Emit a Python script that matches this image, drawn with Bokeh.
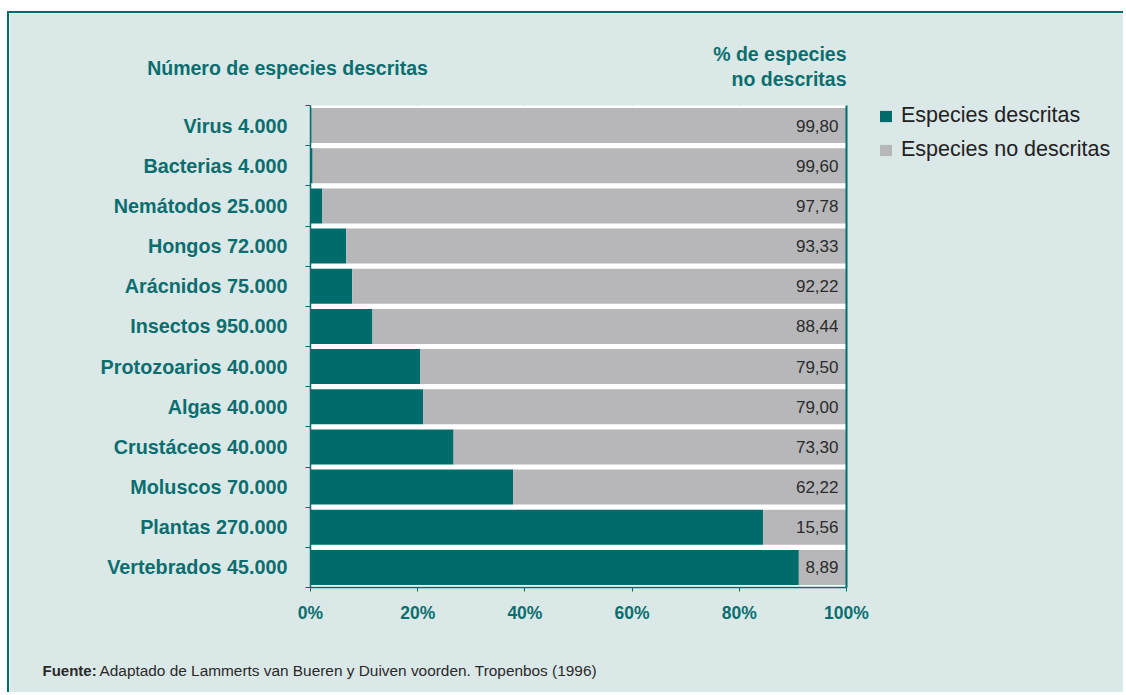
from bokeh.plotting import figure
from bokeh.models import ColumnDataSource, FixedTicker, Legend, LegendItem, Label, BoxAnnotation
from bokeh.embed import file_html
from bokeh.resources import INLINE
from bokeh.core.properties import value

# ---- data ----
grupos = ["Virus", "Bacterias", "Nemátodos", "Hongos", "Arácnidos", "Insectos",
          "Protozoarios", "Algas", "Crustáceos", "Moluscos", "Plantas", "Vertebrados"]
especies_descritas = ["4.000", "4.000", "25.000", "72.000", "75.000", "950.000",
                      "40.000", "40.000", "40.000", "70.000", "270.000", "45.000"]
pct_no_descritas = [99.80, 99.60, 97.78, 93.33, 92.22, 88.44,
                    79.50, 79.00, 73.30, 62.22, 15.56, 8.89]
pct_descritas = [round(100 - v, 2) for v in pct_no_descritas]
x_ticks = [0, 20, 40, 60, 80, 100]
x_tick_labels = ["0%", "20%", "40%", "60%", "80%", "100%"]

TEAL = "#006B6B"
TEXT_TEAL = "#0B6E6E"
GRAY = "#B7B7BA"
BG = "#DAE8E8"
SANS = "Liberation Sans"

n = len(grupos)
ypos = [n - 1 - i + 0.5 for i in range(n)]
labels = [f"{g} {d}" for g, d in zip(grupos, especies_descritas)]
val_text = [f"{v:.2f}".replace(".", ",") for v in pct_no_descritas]

# ---- layout (pixels inside the figure) ----
W, H = 1116, 681
FX0, FX1 = 301, 837        # pixel of 0% and 100%
FY_TOP, FY_BOT = 92, 574   # pixel of top / bottom of the bar area
sx = (FX1 - FX0) / 100.0
sy = (FY_BOT - FY_TOP) / n
x_range = (-FX0 / sx, 100 + (W - FX1) / sx)
y_range = (-(H - FY_BOT) / sy, n + FY_TOP / sy)

src = ColumnDataSource(dict(
    y=ypos, zero=[0] * n, desc=pct_descritas, full=[100] * n, txt=val_text,
))

p = figure(width=W, height=H, output_backend="svg", toolbar_location=None,
           x_range=x_range, y_range=y_range,
           min_border_left=0, min_border_right=0,
           min_border_top=0, min_border_bottom=0)
p.styles = {"margin-left": "7px", "margin-top": "11px",
            "border-top": f"2px solid {TEAL}", "border-left": f"2px solid {TEAL}"}

p.background_fill_color = BG
p.border_fill_color = BG
p.outline_line_color = None

# white plotting area
p.add_layout(BoxAnnotation(left=0, right=100, bottom=0, top=n, fill_color="white",
                           fill_alpha=1, line_color=None, level="underlay"))

# vertical grid lines (inside the bar area only)
inner = [t for t in x_ticks if 0 < t < 100]
p.segment(x0=inner, y0=[0] * len(inner), x1=inner, y1=[n] * len(inner),
          line_color=TEAL, line_width=1, level="underlay")

r1 = p.hbar(y="y", left="zero", right="desc", height=0.87, source=src,
            fill_color=TEAL, line_color=None)
r2 = p.hbar(y="y", left="desc", right="full", height=0.87, source=src,
            fill_color=GRAY, line_color=None)

# right border line at 100%
p.segment(x0=[100], y0=[0], x1=[100], y1=[n], line_color=TEAL, line_width=2)

p.text(x="full", y="y", text="txt", source=src, x_offset=-8,
       text_align="right", text_baseline="middle",
       text_font=value(SANS), text_font_size="17px", text_color="#2B2B2B")

# x axis
xa = p.xaxis[0]
xa.fixed_location = 0
xa.bounds = (0, 100)
xa.ticker = FixedTicker(ticks=x_ticks)
xa.major_label_overrides = {t: l for t, l in zip(x_ticks, x_tick_labels)}
xa.axis_line_color = TEAL
xa.axis_line_width = 1.5
xa.major_tick_line_color = TEAL
xa.major_tick_out = 4
xa.major_tick_in = 0
xa.minor_tick_line_color = None
xa.major_label_standoff = 11
xa.major_label_text_font = SANS
xa.major_label_text_font_style = "bold"
xa.major_label_text_font_size = "17.5px"
xa.major_label_text_color = TEXT_TEAL

# y axis
ya = p.yaxis[0]
ya.fixed_location = 0
ya.bounds = (0, n)
ya.ticker = FixedTicker(ticks=ypos, minor_ticks=list(range(n + 1)))
ya.major_label_overrides = {y: l for y, l in zip(ypos, labels)}
ya.axis_line_color = TEAL
ya.axis_line_width = 1.5
ya.major_tick_line_color = None
ya.major_tick_out = 0
ya.major_tick_in = 0
ya.minor_tick_line_color = TEAL
ya.minor_tick_out = 5
ya.minor_tick_in = 0
ya.major_label_standoff = 18
ya.major_label_text_font = SANS
ya.major_label_text_font_style = "bold"
ya.major_label_text_font_size = "19.8px"
ya.major_label_text_color = TEXT_TEAL

p.xgrid.grid_line_color = None
p.ygrid.grid_line_color = None

# headers
def px_x(page_x):
    return (page_x - 9 - FX0) / sx

def px_y(page_y):
    return n - (page_y - 13 - FY_TOP) / sy

hdr = dict(text_font=SANS, text_font_style="bold", text_font_size="19.5px",
           text_color=TEXT_TEAL, text_baseline="middle")
p.add_layout(Label(x=px_x(287), y=px_y(67), text="Número de especies descritas",
                   text_align="center", **hdr))
p.add_layout(Label(x=100, y=px_y(53.5), text="% de especies", text_align="right", **hdr))
p.add_layout(Label(x=100, y=px_y(78.5), text="no descritas", text_align="right", **hdr))

# footer
p.add_layout(Label(x=px_x(42), y=px_y(670), text="Fuente:", text_align="left",
                   text_baseline="middle", text_font=SANS, text_font_style="bold",
                   text_font_size="15px", text_color="#2A2A2A"))
p.add_layout(Label(x=px_x(99), y=px_y(670),
                   text="Adaptado de Lammerts van Bueren y Duiven voorden. Tropenbos (1996)",
                   text_align="left", text_baseline="middle", text_font=SANS,
                   text_font_size="15.4px", text_color="#2A2A2A"))

legend = Legend(items=[LegendItem(label="Especies descritas", renderers=[r1]),
                       LegendItem(label="Especies no descritas", renderers=[r2])],
                location=(878 - 9, H - (105 - 13) - 57), margin=0, padding=0, spacing=9,
                glyph_width=15, glyph_height=14, label_height=19,
                label_standoff=8, label_text_font=SANS,
                label_text_font_size="21.5px", label_text_color="#222222",
                background_fill_alpha=0, border_line_color=None)
p.add_layout(legend, "center")

open("out.html", "w").write(file_html(p, INLINE))
